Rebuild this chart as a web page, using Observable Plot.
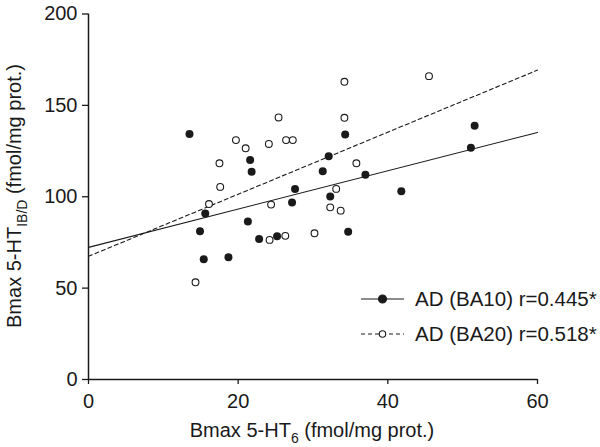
<!DOCTYPE html>
<html>
<head>
<meta charset="utf-8">
<script src="https://cdn.jsdelivr.net/npm/d3@7"></script>
<script src="https://cdn.jsdelivr.net/npm/@observablehq/plot@0.6"></script>
<style>
  html, body { margin: 0; padding: 0; background: white; }
  #chart svg { display: block; }
</style>
</head>
<body>
<div id="chart"></div>
<script>
// ---- Data ----
// AD (BA10): filled circles
const ba10X = [13.5, 21.6, 21.8, 34.3, 32.1, 31.3, 37.0, 51.6, 51.1, 27.6, 32.3, 41.8, 27.2, 25.2, 34.7, 15.6, 14.9, 21.3, 22.8, 15.4, 18.7];
const ba10Y = [134.3, 120.1, 113.7, 134.0, 122.1, 113.9, 112.1, 138.9, 126.8, 104.3, 100.2, 103.0, 96.9, 78.4, 80.9, 90.9, 81.1, 86.4, 76.9, 65.8, 66.9];
// AD (BA20): open circles
const ba20X = [25.4, 19.7, 21.0, 24.1, 17.5, 17.6, 34.2, 45.5, 34.2, 26.4, 27.3, 35.8, 33.1, 24.4, 32.3, 33.7, 24.2, 26.3, 30.2, 16.1, 14.3];
const ba20Y = [143.4, 131.0, 126.5, 128.9, 118.3, 105.4, 162.9, 166.0, 143.2, 131.0, 131.0, 118.3, 104.3, 95.7, 94.2, 92.4, 76.4, 78.6, 80.0, 96.0, 53.2];
// regression lines (endpoints)
const fitX = [0, 60];
const fitBA10 = [72.3, 135.2];
const fitBA20 = [67.4, 169.3];
// ticks and labels
const xTicks = [0, 20, 40, 60];
const yTicks = [0, 50, 100, 150, 200];
const legendLabels = ["AD (BA10) r=0.445*", "AD (BA20) r=0.518*"];

const ba10 = ba10X.map((x, i) => ({x, y: ba10Y[i]}));
const ba20 = ba20X.map((x, i) => ({x, y: ba20Y[i]}));
const line10 = fitX.map((x, i) => ({x, y: fitBA10[i]}));
const line20 = fitX.map((x, i) => ({x, y: fitBA20[i]}));

const ink = "#1a1a1a";
const font = "'Liberation Sans', Arial, Helvetica, sans-serif";

const plot = Plot.plot({
  width: 600,
  height: 447,
  marginLeft: 88,
  marginRight: 63,
  marginTop: 13.5,
  marginBottom: 68,
  style: {fontFamily: font, fontSize: "20px", color: ink, background: "white"},
  x: {domain: [0, 60]},
  y: {domain: [0, 200]},
  marks: [
    Plot.axisX({ticks: xTicks, tickSize: 5, tickPadding: 9, label: null, fontSize: 20, strokeWidth: 1.3}),
    Plot.axisY({ticks: yTicks, tickSize: 6, tickPadding: 5, label: null, fontSize: 20, strokeWidth: 1.3}),
    Plot.ruleY([0], {stroke: ink, strokeWidth: 1.5}),
    Plot.ruleX([0], {stroke: ink, strokeWidth: 1.5}),
    Plot.line(line10, {x: "x", y: "y", stroke: ink, strokeWidth: 1.1}),
    Plot.line(line20, {x: "x", y: "y", stroke: ink, strokeWidth: 1.1, strokeDasharray: "4,3"}),
    Plot.dot(ba10, {x: "x", y: "y", r: 4, fill: ink, stroke: "none"}),
    Plot.dot(ba20, {x: "x", y: "y", r: 3.4, fill: "white", stroke: ink, strokeWidth: 1.1})
  ]
});

document.getElementById("chart").appendChild(plot);

// ---- Axis titles with sub-scripts, and legend ----
const svg = d3.select(plot);

const xt = svg.append("text")
  .attr("x", 312).attr("y", 437)
  .attr("text-anchor", "middle")
  .attr("font-family", font).attr("font-size", 20).attr("fill", ink);
xt.append("tspan").text("Bmax 5-HT");
xt.append("tspan").attr("font-size", 14).attr("dy", 6).text("6");
xt.append("tspan").attr("dy", -6).text(" (fmol/mg prot.)");

const yt = svg.append("text")
  .attr("transform", "translate(21,196) rotate(-90)")
  .attr("text-anchor", "middle")
  .attr("font-family", font).attr("font-size", 20).attr("fill", ink);
yt.append("tspan").text("Bmax 5-HT");
yt.append("tspan").attr("font-size", 14).attr("dy", 6).text("IB/D");
yt.append("tspan").attr("dy", -6).text(" (fmol/mg prot.)");

const legend = svg.append("g").attr("text-anchor", "start");
const rows = [
  {label: legendLabels[0], y: 299, dash: null, fill: ink, r: 4},
  {label: legendLabels[1], y: 334, dash: "4,3", fill: "white", r: 3.2}
];
rows.forEach(row => {
  legend.append("line")
    .attr("x1", 361).attr("x2", 404).attr("y1", row.y).attr("y2", row.y)
    .attr("stroke", ink).attr("stroke-width", 1.1)
    .attr("stroke-dasharray", row.dash);
  legend.append("circle")
    .attr("cx", 382.5).attr("cy", row.y).attr("r", row.r)
    .attr("fill", row.fill).attr("stroke", ink).attr("stroke-width", 1.1);
  legend.append("text")
    .attr("x", 415).attr("y", row.y).attr("dy", "0.36em")
    .attr("text-anchor", "start")
    .attr("font-family", font).attr("font-size", 20.5).attr("fill", ink)
    .text(row.label);
});
</script>
</body>
</html>
